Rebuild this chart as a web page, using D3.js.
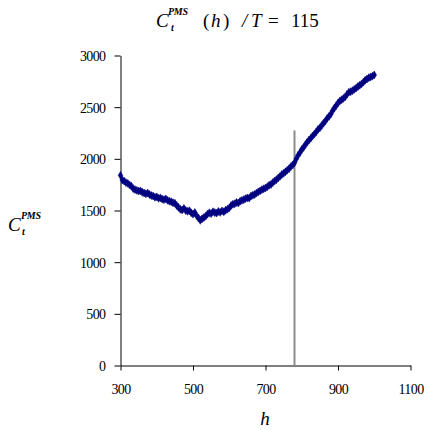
<html>
<head>
<style>
    body {
        margin: 0;
        background: #ffffff;
    }
    #chart, #chart text {
        font-family: "Liberation Serif", "Times New Roman", Times, serif;
    }
</style>
<script src="https://d3js.org/d3.v7.min.js"></script>
</head>
<body>
<svg id="chart"></svg>
<script>

// horizon h and criterion value
let hValues = [300, 305, 310, 315, 320, 325, 330, 335, 340, 345, 350, 355, 360, 365, 370, 375, 380, 385, 390, 395,
    400, 405, 410, 415, 420, 425, 430, 435, 440, 445, 450, 455, 460, 465, 470, 475, 480, 485, 490, 495,
    500, 505, 510, 515, 520, 525, 530, 535, 540, 545, 550, 555, 560, 565, 570, 575, 580, 585, 590, 595,
    600, 605, 610, 615, 620, 625, 630, 635, 640, 645, 650, 655, 660, 665, 670, 675, 680, 685, 690, 695,
    700, 705, 710, 715, 720, 725, 730, 735, 740, 745, 750, 755, 760, 765, 770, 775, 780, 785, 790, 795,
    800, 805, 810, 815, 820, 825, 830, 835, 840, 845, 850, 855, 860, 865, 870, 875, 880, 885, 890, 895,
    900, 905, 910, 915, 920, 925, 930, 935, 940, 945, 950, 955, 960, 965, 970, 975, 980, 985, 990, 995, 1000]

let cValues = [1840, 1795, 1785, 1770, 1762, 1748, 1735, 1712, 1702, 1695, 1688, 1690, 1676, 1670, 1662, 1668, 1655, 1645, 1640, 1628,
    1632, 1618, 1622, 1610, 1605, 1612, 1598, 1590, 1585, 1575, 1570, 1548, 1530, 1512, 1505, 1520, 1500, 1492, 1498, 1478,
    1465, 1480, 1450, 1428, 1405, 1420, 1432, 1445, 1465, 1478, 1470, 1488, 1480, 1475, 1490, 1482, 1496, 1488, 1502, 1512,
    1525, 1548, 1560, 1565, 1578, 1572, 1590, 1598, 1605, 1615, 1622, 1620, 1640, 1648, 1655, 1668, 1680, 1690, 1702, 1710,
    1718, 1730, 1745, 1752, 1770, 1785, 1798, 1815, 1830, 1848, 1860, 1875, 1890, 1905, 1925, 1940, 1962, 2000, 2035, 2060,
    2090, 2110, 2138, 2160, 2182, 2200, 2222, 2240, 2262, 2285, 2300, 2322, 2345, 2365, 2392, 2410, 2432, 2465, 2492, 2515,
    2540, 2560, 2572, 2585, 2600, 2625, 2645, 2650, 2660, 2672, 2685, 2700, 2712, 2725, 2742, 2760, 2772, 2785, 2792, 2800, 2812]

// the grey marker line
let markerH = 780
let markerTop = 2275

let xTicks = [300, 500, 700, 900, 1100]
let yTicks = [0, 500, 1000, 1500, 2000, 2500, 3000]

function drawChart() {
    let width = 427, height = 430
    let svg = d3.select("#chart").attr("width", width).attr("height", height)

    let x = d3.scaleLinear().domain([300, 1100]).range([120.5, 410.5])
    let y = d3.scaleLinear().domain([0, 3000]).range([365.5, 55.5])

    // axes
    let xAxis = d3.axisBottom(x).tickValues(xTicks).tickFormat(d3.format("d"))
        .tickSize(5).tickSizeOuter(0).tickPadding(14)
    let yAxis = d3.axisLeft(y).tickValues(yTicks).tickFormat(d3.format("d"))
        .tickSize(6).tickSizeOuter(0).tickPadding(9)

    let gx = svg.append("g").attr("transform", "translate(0," + y(0) + ")").call(xAxis)
    let gy = svg.append("g").attr("transform", "translate(" + x(300) + ",0)").call(yAxis)

    for (let g of [gx, gy]) {
        g.attr("font-family", null).attr("font-size", 14)
        g.select(".domain").attr("stroke", "#000").attr("stroke-width", 1)
        g.selectAll(".tick line").attr("stroke", "#000")
        g.selectAll(".tick text")
            .attr("fill", "#000")
            .style("letter-spacing", "-0.6px")
    }
    gy.selectAll(".tick text").attr("dy", "0.35em")

    // grey vertical line
    svg.append("line")
        .attr("x1", x(markerH)).attr("x2", x(markerH))
        .attr("y1", y(0)).attr("y2", y(markerTop))
        .attr("stroke", "#8c8c8c")
        .attr("stroke-width", 2)

    // series markers
    let points = hValues.map((h, i) => ({h: h, c: cValues[i]}))
    let diamond = d3.symbol().type(d3.symbolDiamond).size(18)
    svg.append("g").selectAll("path").data(points)
        .enter().append("path")
        .attr("d", diamond)
        .attr("transform", d => "translate(" + x(d.h) + "," + y(d.c) + ")")
        .attr("fill", "#000080")
        .attr("stroke", "#000080")
        .attr("stroke-width", 0.6)

    // title, laid out piece by piece like the original
    let tg = svg.append("g").attr("fill", "#000").style("font-style", "italic")
    tg.append("text").attr("x", 156).attr("y", 27).attr("font-size", 19).text("C")
    tg.append("text").attr("x", 168).attr("y", 15).attr("font-size", 10).attr("font-weight", "bold")
        .style("letter-spacing", "-0.3px").text("PMS")
    tg.append("text").attr("x", 171).attr("y", 31).attr("font-size", 10).attr("font-weight", "bold").text("t")
    tg.append("text").attr("x", 203).attr("y", 27).attr("font-size", 19).style("font-style", "normal").text("(")
    tg.append("text").attr("x", 211).attr("y", 27).attr("font-size", 19).text("h")
    tg.append("text").attr("x", 223).attr("y", 27).attr("font-size", 19).style("font-style", "normal").text(")")
    tg.append("text").attr("x", 242).attr("y", 27).attr("font-size", 19).text("/")
    tg.append("text").attr("x", 251).attr("y", 27).attr("font-size", 19).text("T")
    tg.append("text").attr("x", 268).attr("y", 27).attr("font-size", 19).style("font-style", "normal").text("=")
    tg.append("text").attr("x", 291).attr("y", 27).attr("font-size", 19).style("font-style", "normal").text("115")

    // y label
    let yl = svg.append("g").attr("fill", "#000").style("font-style", "italic")
    yl.append("text").attr("x", 8).attr("y", 231).attr("font-size", 19).text("C")
    yl.append("text").attr("x", 21).attr("y", 219).attr("font-size", 10).attr("font-weight", "bold")
        .style("letter-spacing", "-0.3px").text("PMS")
    yl.append("text").attr("x", 22).attr("y", 235).attr("font-size", 10).attr("font-weight", "bold").text("t")

    // x label
    svg.append("text")
        .attr("x", 265).attr("y", 425)
        .attr("text-anchor", "middle")
        .attr("font-size", 19).style("font-style", "italic")
        .text("h")
}

drawChart()

</script>
</body>
</html>
